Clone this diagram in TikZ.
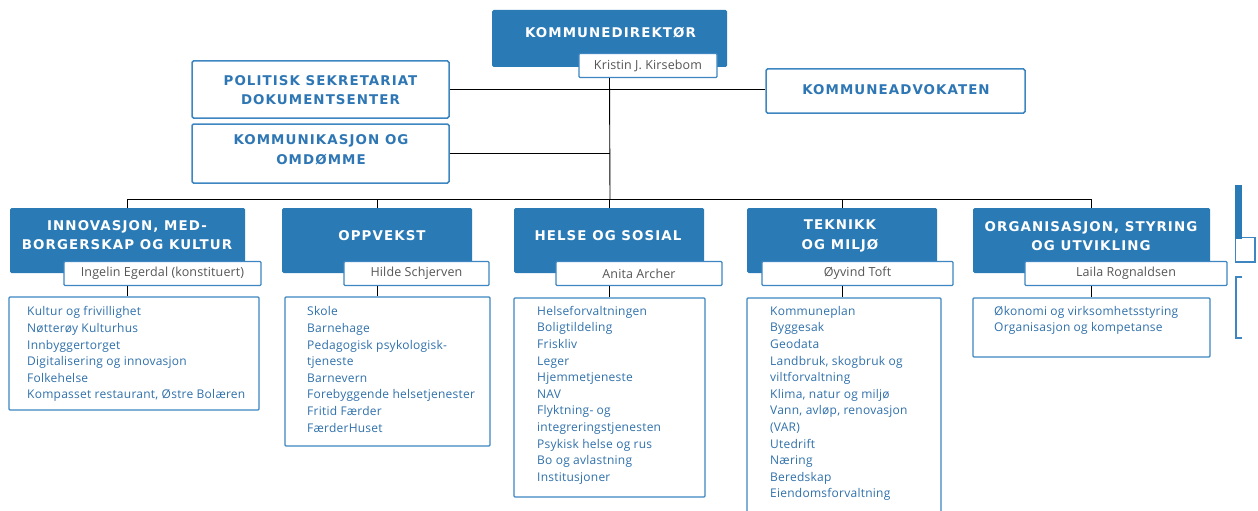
\documentclass[tikz,border=0pt]{standalone}
\usepackage{fontspec}
\setmainfont{Open Sans}
\newfontfamily\hdfont[LetterSpace=8]{DejaVu Sans}
\newfontfamily\bodyfont[LetterSpace=2]{Open Sans}
\newfontfamily\namefont[LetterSpace=1]{Open Sans}
\definecolor{hdrblue}{HTML}{2A7AB6}
\definecolor{outl}{HTML}{3E86C2}
\definecolor{wtxt}{HTML}{2E77B4}
\definecolor{listblue}{HTML}{2F70AA}
\definecolor{namegray}{HTML}{555555}
\begin{document}
\begin{tikzpicture}[x=1pt,y=-1pt,
  hdr/.style={fill=hdrblue, draw=none, rounded corners=1.5pt, minimum height=65, inner sep=0},
  hdtxt/.style={text=white, font=\hdfont\bfseries\fontsize{13.4}{19.5}\selectfont, align=center, inner sep=0},
  wbox/.style={draw=outl, fill=white, line width=1.5pt, rounded corners=1.5pt, inner sep=0},
  wtext/.style={text=wtxt, font=\hdfont\bfseries\fontsize{13.4}{19.5}\selectfont, align=center, inner sep=0},
  namebox/.style={draw=outl, fill=white, line width=1.3pt, rounded corners=1pt, minimum height=24, inner sep=0, text=namegray, font=\namefont\fontsize{12.5}{14}\selectfont},
  listbox/.style={draw=outl, line width=1.3pt, rounded corners=1pt, inner sep=0},
  listtxt/.style={anchor=north west, align=left, inner sep=0, text=listblue, font=\bodyfont\fontsize{12}{16.6}\selectfont},
  conn/.style={draw=black, line width=0.9pt}
]
\useasboundingbox (0,0) rectangle (1258,511);
\clip (0,0) rectangle (1258,511);

% top
\node[hdr, minimum width=235, minimum height=57] (kd) at (609.5,38.5) {};
\node[hdtxt, anchor=base] (kdt) at (610.5,37.5) {KOMMUNEDIREKTØR};
\node[namebox, minimum width=138] (kdn) at (648,65.5) {Kristin J. Kirsebom};

\node[wbox, minimum width=257, minimum height=57] (ps) at (320.5,89.5) {};
\node[wtext] (pst) at (320.5,90) {POLITISK SEKRETARIAT\\DOKUMENTSENTER};
\node[wbox, minimum width=257, minimum height=59] (km) at (320.5,153.5) {};
\node[wtext] (kmt) at (321,150) {KOMMUNIKASJON OG\\OMDØMME};
\node[wbox, minimum width=259, minimum height=44] (ka) at (895.5,91) {};
\node[wtext] (kat) at (896,90) {KOMMUNEADVOKATEN};

% departments
\node[hdr, minimum width=235] (d1) at (127.5,240.5) {};
\node[hdr, minimum width=190] (d2) at (377,240.5) {};
\node[hdr, minimum width=190] (d3) at (609,240.5) {};
\node[hdr, minimum width=190] (d4) at (842,240.5) {};
\node[hdr, minimum width=237] (d5) at (1091.5,240.5) {};

\node[hdtxt] (d1t) at (127,235) {INNOVASJON, MED-\\BORGERSKAP OG KULTUR};
\node[hdtxt] (d2t) at (382,236) {OPPVEKST};
\node[hdtxt] (d3t) at (608,236) {HELSE OG SOSIAL};
\node[hdtxt] (d4t) at (840,236) {TEKNIKK\\OG MILJØ};
\node[hdtxt] (d5t) at (1091,236) {ORGANISASJON, STYRING\\OG UTVIKLING};

\node[namebox, minimum width=197] (n1) at (162.5,273.5) {Ingelin Egerdal (konstituert)};
\node[namebox, minimum width=145] (n2) at (416.5,273.5) {Hilde Schjerven};
\node[namebox, minimum width=166] (n3) at (639,273.5) {Anita Archer};
\node[namebox, minimum width=191] (n4) at (857.5,273.5) {Øyvind Toft};
\node[namebox, minimum width=202] (n5) at (1126,273.5) {Laila Rognaldsen};

\node[listbox, minimum width=250, minimum height=113] (l1) at (134,353.5) {};
\node[listbox, minimum width=205, minimum height=149] (l2) at (387.5,371.5) {};
\node[listbox, minimum width=191, minimum height=199] (l3) at (609.5,397.5) {};
\node[listbox, minimum width=194, minimum height=222] (l4) at (844,409) {};
\node[listbox, minimum width=237, minimum height=59] (l5) at (1091.5,327.5) {};

\node[listtxt] (l1t) at (27,306.5) {Kultur og frivillighet\\Nøtterøy Kulturhus\\Innbyggertorget\\Digitalisering og innovasjon\\Folkehelse\\Kompasset restaurant, Østre Bolæren};
\node[listtxt] (l2t) at (307,306.5) {Skole\\Barnehage\\Pedagogisk psykologisk-\\tjeneste\\Barnevern\\Forebyggende helsetjenester\\Fritid Færder\\FærderHuset};
\node[listtxt] (l3t) at (537,306) {Helseforvaltningen\\Boligtildeling\\Friskliv\\Leger\\Hjemmetjeneste\\NAV\\Flyktning- og\\integreringstjenesten\\Psykisk helse og rus\\Bo og avlastning\\Institusjoner};
\node[listtxt] (l4t) at (770,306) {Kommuneplan\\Byggesak\\Geodata\\Landbruk, skogbruk og\\viltforvaltning\\Klima, natur og miljø\\Vann, avløp, renovasjon\\(VAR)\\Utedrift\\Næring\\Beredskap\\Eiendomsforvaltning};
\node[listtxt] (l5t) at (994,306) {Økonomi og virksomhetsstyring\\Organisasjon og kompetanse};

% connectors
\coordinate (bus) at (610,199);
\draw[conn] (kd.south |- kdn.south) -- (bus);
\draw[conn] (ps.east) -- (ps.east -| ka.west);
\draw[conn] (km.east) -- (km.east -| bus);
\draw[conn] (d1.north) -- (d1.north |- bus) -- (d5.north |- bus) -- (d5.north);
\foreach \d in {d2,d3,d4} \draw[conn] (\d.north) -- (\d.north |- bus);
\foreach \d/\n/\l in {d1/n1/l1,d2/n2/l2,d3/n3/l3,d4/n4/l4,d5/n5/l5}
  \draw[conn] (\d.south |- \n.south) -- (\d.south |- \l.north);

% cut-off shapes at the right edge
\fill[hdrblue] (1235,185) rectangle (1242,239);
\draw[outl, line width=1.3pt] (1242,237.5) -- (1255,237.5) -- (1255,262) -- (1235.5,262) -- (1235.5,239);
\draw[outl, line width=1.3pt] (1242,277) -- (1236,277) -- (1236,338) -- (1242,338);
\end{tikzpicture}
\end{document}
